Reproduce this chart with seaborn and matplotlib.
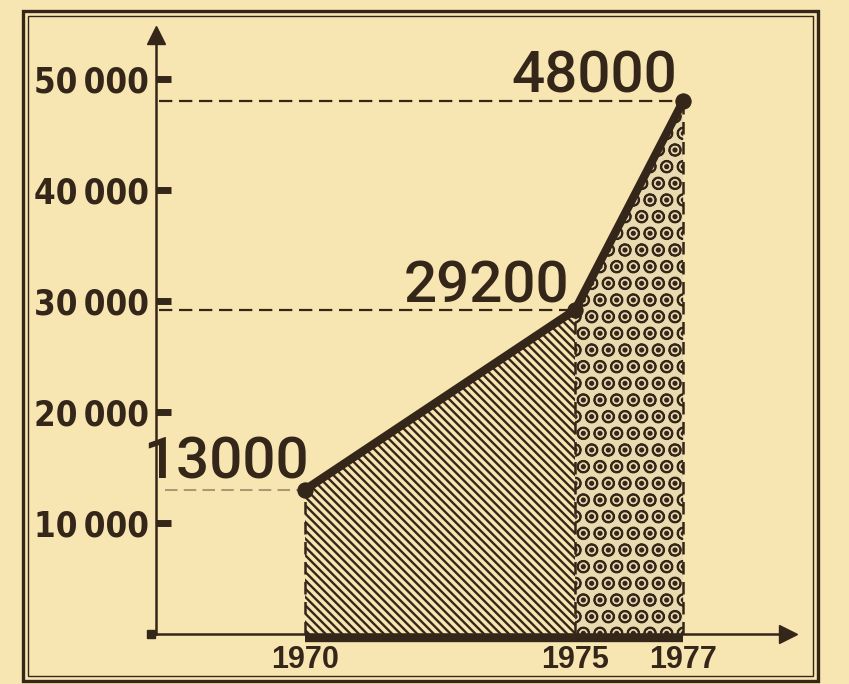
import matplotlib.pyplot as plt
import seaborn as sns
from matplotlib.patches import Rectangle

# data
years = [1970, 1975, 1977]
values = [13000, 29200, 48000]
value_labels = ['13000', '29200', '48000']
year_labels = ['1970', '1975', '1977']
ytick_vals = [10000, 20000, 30000, 40000, 50000]
ytick_labels = ['10\u2009000', '20\u2009000', '30\u2009000', '40\u2009000', '50\u2009000']

bg = '#f8e6b2'
dark = '#35261a'

sns.set_theme(style='white')
plt.rcParams['font.family'] = ['DejaVu Sans']
plt.rcParams['hatch.linewidth'] = 1.7

fig = plt.figure(figsize=(8.49, 6.84), dpi=100, facecolor=bg)
ax = fig.add_axes([0.1837, 0.0731, 0.7444, 0.8757])
ax.set_facecolor('none')
ax.set_xlim(1967.24, 1978.94)
ax.set_ylim(0, 53960)

# shaded areas under the line
ax.fill_between(years[:2], values[:2], 0, facecolor='none', edgecolor=dark,
                hatch='\\\\\\\\', linewidth=0)
plt.rcParams['hatch.linewidth'] = 1.3
ax.fill_between(years[1:], values[1:], 0, facecolor='#eadab0', edgecolor=dark,
                hatch='O.', linewidth=0)

# dashed guide lines
ax.vlines(years, 0, values, colors=dark, linestyles=(0, (5, 3)), lw=1.8)
ax.hlines(values[1:], 1967.3, years[1:], colors=dark, linestyles=(0, (6, 3)), lw=1.6)
ax.hlines(values[0], 1967.4, years[0], colors=dark, linestyles=(0, (6, 3)), lw=1.5, alpha=0.4)

# main line
sns.lineplot(x=years, y=values, ax=ax, color=dark, lw=6, marker='o',
             markersize=11, markeredgecolor=dark, solid_capstyle='butt')

# thick bar along x axis
ax.plot([years[0], years[-1]], [-380, -380], color=dark, lw=6,
        solid_capstyle='butt', clip_on=False)
ax.plot(1967.15, 0, marker='s', color=dark, ms=6, clip_on=False)

# value labels
offsets = [(3, 8), (-4, 5), (-4, 6)]
for yr, v, lab, (dx, dy) in zip(years, values, value_labels, offsets):
    ax.annotate(lab, xy=(yr, v), xytext=(dx, dy), textcoords='offset points',
                ha='right', va='baseline', fontsize=42, color=dark,
                fontweight='medium', family=['Roboto', 'DejaVu Sans'])

# axes
for s in ['top', 'right']:
    ax.spines[s].set_visible(False)
for s in ['left', 'bottom']:
    ax.spines[s].set_color(dark)
    ax.spines[s].set_linewidth(1.8)
ax.plot(1, 0, marker='>', color=dark, ms=13, transform=ax.transAxes, clip_on=False)
ax.plot(0, 1, marker='^', color=dark, ms=13, transform=ax.transAxes, clip_on=False)

ax.set_yticks(ytick_vals, ytick_labels)
ax.tick_params(axis='y', direction='in', length=11, width=5, color=dark, pad=5,
               left=True)
for t in ax.get_yticklabels():
    t.set_family(['DejaVu Sans'])
    t.set_fontstretch('condensed')
    t.set_fontweight('bold')
    t.set_fontsize(25)
    t.set_color(dark)

ax.set_xticks(years, year_labels)
ax.tick_params(axis='x', length=0, pad=8)
for t in ax.get_xticklabels():
    t.set_family(['Liberation Sans', 'DejaVu Sans'])
    t.set_fontweight('bold')
    t.set_fontsize(22)
    t.set_color(dark)
ax.set_xlabel('')
ax.set_ylabel('')

# double frame
fig.patches.append(Rectangle((0.0271, 0.0044), 0.9364, 0.9795, transform=fig.transFigure,
                             fill=False, edgecolor=dark, lw=2.4))
fig.patches.append(Rectangle((0.0330, 0.0117), 0.9246, 0.9649, transform=fig.transFigure,
                             fill=False, edgecolor=dark, lw=1.0))

fig.savefig('out.png', dpi=100, facecolor=bg)
